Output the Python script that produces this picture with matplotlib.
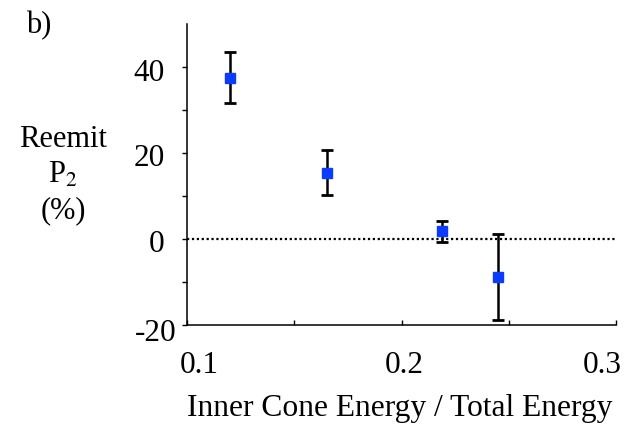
import matplotlib
matplotlib.use('Agg')
from matplotlib import pyplot as plt
from matplotlib import transforms

# inner cone fraction vs reemit P2
cone_fraction = [0.12, 0.165, 0.219, 0.245]
reemit_p2 = [37.5, 15.4, 1.7, -8.8]
p2_error = [6.0, 5.3, 2.5, 10.0]

x_ticks = [0.1, 0.2, 0.3]
x_tick_labels = ['0.1', '0.2', '0.3']
y_ticks = [-20, 0, 20, 40]
y_tick_labels = ['-20', '0', '20', '40']

plt.rcParams['font.family'] = ['Liberation Serif', 'DejaVu Serif']
plt.rcParams['mathtext.fontset'] = 'stix'

fig = plt.figure(figsize=(6.3, 4.33), dpi=100)
ax = fig.add_axes([0.2973, 0.2501, 0.6805, 0.6945])

ax.axhline(0, color='black', linestyle=(0, (1, 1.2)), linewidth=1.6, zorder=1)
ax.errorbar(cone_fraction, reemit_p2, yerr=p2_error, fmt='s', color='#0b3bff',
            markersize=7.7, ecolor='black', elinewidth=1.8, capsize=4, capthick=2, zorder=3)

ax.set_xlim(0.1, 0.3)
ax.set_ylim(-20, 50)
ax.set_xticks(x_ticks)
ax.set_xticks([0.15, 0.25], minor=True)
ax.set_yticks(y_ticks)
ax.set_yticks([-10, 10, 30], minor=True)
ax.set_xticklabels(x_tick_labels)
ax.set_yticklabels(y_tick_labels)

ax.spines['top'].set_visible(False)
ax.spines['right'].set_visible(False)
ax.spines['left'].set_linewidth(1.1)
ax.spines['bottom'].set_linewidth(1.1)
ax.tick_params(axis='x', which='both', direction='in', length=3.5, width=1, labelsize=22.5, pad=19)
ax.tick_params(axis='y', which='both', direction='out', length=3.5, width=1, labelsize=22.5, pad=13)

# nudge labels to where the original put them
for lab, dx in zip(ax.get_xticklabels(), [12, 3, -14]):
    lab.set_transform(lab.get_transform() + transforms.ScaledTranslation(dx / 100, 0, fig.dpi_scale_trans))
for lab, dx, dy in zip(ax.get_yticklabels(), [12, 0, 0, 0], [-5, -2, -2, -3]):
    lab.set_transform(lab.get_transform() + transforms.ScaledTranslation(dx / 100, dy / 100, fig.dpi_scale_trans))

ax.set_xlabel('Inner Cone Energy / Total Energy', fontsize=22.7, va='baseline')
ax.xaxis.set_label_coords(0.496, -0.3036)

fig.text(0.1, 0.6605, 'Reemit', ha='center', va='baseline', fontsize=22)
fig.text(0.1, 0.5774, r'P$_2$', ha='center', va='baseline', fontsize=22)
fig.text(0.1, 0.497, '(%)', ha='center', va='baseline', fontsize=22)
fig.text(0.042, 0.9238, 'b)', ha='left', va='baseline', fontsize=22)

fig.savefig('out.png', dpi=100)
